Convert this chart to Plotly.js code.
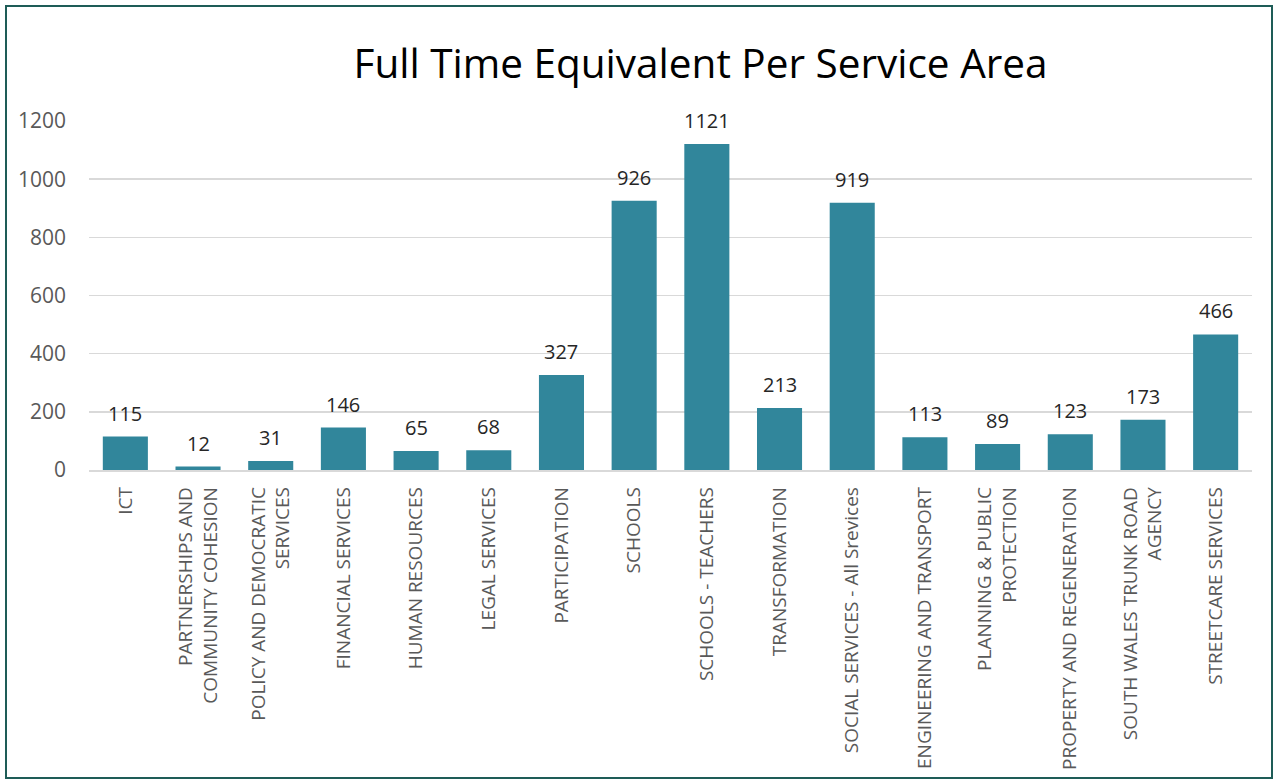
<!DOCTYPE html>
<html>
<head>
<meta charset="utf-8">
<script src="https://cdn.plot.ly/plotly-3.0.1.min.js"></script>
<style>
  html, body { margin: 0; padding: 0; background: #ffffff; }
  #chart { position: absolute; left: 0; top: 0; width: 1276px; height: 781px; }
  #frame { position: absolute; left: 5px; top: 5px; width: 1264px; height: 770px;
           border: 2.5px solid #1e5c57; pointer-events: none; }
</style>
</head>
<body>
<div id="chart"></div>
<div id="frame"></div>
<script>
const categories = [
  "ICT",
  "PARTNERSHIPS AND<br>COMMUNITY COHESION",
  "POLICY AND DEMOCRATIC<br>SERVICES",
  "FINANCIAL SERVICES",
  "HUMAN RESOURCES",
  "LEGAL SERVICES",
  "PARTICIPATION",
  "SCHOOLS",
  "SCHOOLS - TEACHERS",
  "TRANSFORMATION",
  "SOCIAL SERVICES - All Srevices",
  "ENGINEERING AND TRANSPORT",
  "PLANNING & PUBLIC<br>PROTECTION",
  "PROPERTY AND REGENERATION",
  "SOUTH WALES TRUNK ROAD<br>AGENCY",
  "STREETCARE SERVICES"
];
const fteValues = [115, 12, 31, 146, 65, 68, 327, 926, 1121, 213, 919, 113, 89, 123, 173, 466];
const yTicks = [0, 200, 400, 600, 800, 1000, 1200];

const trace = {
  type: "bar",
  x: categories,
  y: fteValues,
  marker: { color: "#31869b" },
  hoverinfo: "x+y"
};

const labelAnnotations = categories.map((c, i) => ({
  x: c,
  y: fteValues[i],
  xref: "x",
  yref: "y",
  text: String(fteValues[i]),
  showarrow: false,
  xanchor: "center",
  yanchor: "bottom",
  yshift: 8,
  font: { family: "Open Sans, sans-serif", size: 20, color: "#262626" }
}));

const layout = {
  width: 1276,
  height: 781,
  paper_bgcolor: "#ffffff",
  plot_bgcolor: "#ffffff",
  margin: { l: 89, r: 24, t: 121, b: 311 },
  bargap: 0.38,
  showlegend: false,
  annotations: labelAnnotations,
  title: {
    text: "Full Time Equivalent Per Service Area",
    font: { family: "Open Sans, sans-serif", size: 40.5, color: "#000000" },
    x: 0.549, xanchor: "center",
    y: 0.918, yanchor: "middle"
  },
  xaxis: {
    type: "category",
    tickangle: -90,
    tickfont: { family: "Open Sans, sans-serif", size: 19, color: "#595959" },
    showline: true,
    linecolor: "#d9d9d9",
    linewidth: 1.5,
    ticks: "",
    showgrid: false,
    ticklabelstandoff: 8,
    automargin: false
  },
  yaxis: {
    range: [0, 1200],
    tickvals: yTicks,
    ticktext: yTicks.map(String),
    tickfont: { family: "Open Sans, sans-serif", size: 21, color: "#595959" },
    showgrid: true,
    gridcolor: "#d9d9d9",
    gridwidth: 1.5,
    zeroline: false,
    showline: false,
    ticks: "",
    ticklabelstandoff: 22,
    automargin: false
  }
};

Plotly.newPlot("chart", [trace], layout, { displayModeBar: false, staticPlot: true });
</script>
</body>
</html>
